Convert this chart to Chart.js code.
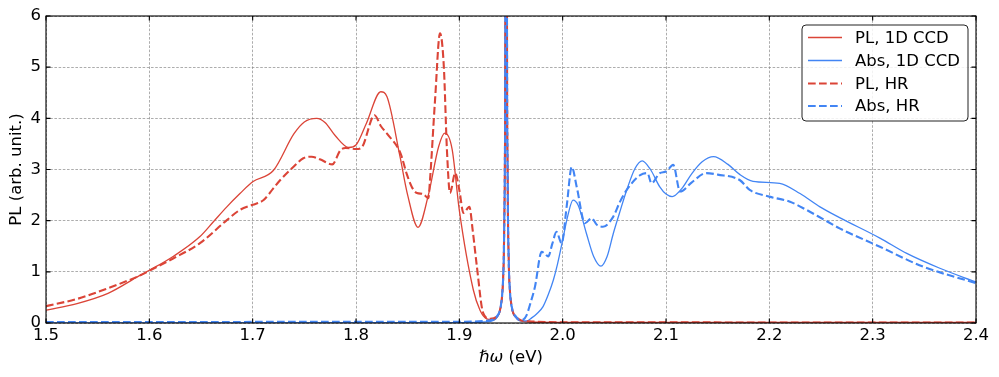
<!DOCTYPE html>
<html>
<head>
<meta charset="utf-8">
<script src="https://cdn.jsdelivr.net/npm/chart.js@4"></script>
<style>
  html, body { margin: 0; padding: 0; background: #fff; }
  #c { display: block; }
</style>
</head>
<body>
<canvas id="c" width="999" height="377"></canvas>
<script>
// ---------- data ----------
const xTicks = [1.5, 1.6, 1.7, 1.8, 1.9, 2.0, 2.1, 2.2, 2.3, 2.4];
const yTicks = [0, 1, 2, 3, 4, 5, 6];
const seriesNames = ["PL, 1D CCD", "Abs, 1D CCD", "PL, HR", "Abs, HR"];

// PL, 1D CCD (solid red)
const pl1dE = [1.50,1.53,1.56,1.59,1.60,1.623,1.649,1.662,1.675,1.6877,1.70,1.72,1.74,1.75,1.762,1.77,1.78,1.793,1.80,1.81,1.824,1.83,1.8426,1.85,1.86,1.87,1.88,1.886,1.893,1.90,1.9135,1.92,1.9265,1.933,
  1.936,1.940,1.942,1.943,1.944,1.9447,1.9453,1.946,1.9467,1.9477,1.9487,1.9507,1.955,1.96,1.97,2.00,2.40];
const pl1dV = [0.25,0.38,0.58,0.92,1.03,1.30,1.69,1.98,2.27,2.53,2.76,2.98,3.70,3.93,4.00,3.92,3.66,3.43,3.48,3.90,4.52,4.42,3.25,2.50,1.87,2.50,3.45,3.71,3.40,2.20,0.65,0.25,0.08,0.06,
  0.10,0.30,0.70,1.30,3.00,8.0,40.0,8.0,3.00,1.30,0.70,0.30,0.10,0.04,0.02,0.012,0.01];

// Abs, 1D CCD (solid blue)
const abs1dE = [1.50,1.90,1.925,1.933,
  1.936,1.940,1.942,1.943,1.944,1.9447,1.9453,1.946,1.9467,1.9477,1.9487,1.9507,1.955,
  1.96,1.965,1.97,1.975,1.981,1.986,1.991,1.995,2.000,2.005,2.010,2.015,2.023,2.030,2.037,2.043,2.049,2.055,2.062,2.070,2.077,2.085,2.094,2.100,2.106,2.115,2.125,2.135,2.146,2.160,2.1716,2.1842,2.210,2.2297,2.249,2.268,2.307,2.333,2.365,2.400];
const abs1dV = [0.0,0.005,0.02,0.05,
  0.10,0.30,0.70,1.30,3.00,8.0,40.0,8.0,3.00,1.30,0.70,0.30,0.10,
  0.04,0.04,0.10,0.18,0.32,0.55,0.84,1.15,1.62,2.10,2.40,2.30,1.75,1.30,1.11,1.30,1.75,2.15,2.60,3.02,3.17,3.00,2.66,2.52,2.47,2.62,2.92,3.15,3.25,3.10,2.90,2.77,2.73,2.53,2.27,2.06,1.66,1.36,1.07,0.80];

// PL, HR (dashed red)
const plhrE = [1.50,1.53,1.56,1.59,1.60,1.623,1.649,1.675,1.6877,1.70,1.7103,1.72,1.7265,1.7393,1.749,1.757,1.765,1.777,1.785,1.79,1.80,1.805,1.818,1.824,1.83,1.843,1.849,1.854,1.859,1.865,1.87,1.8716,1.8765,1.8813,1.885,1.888,1.891,1.896,1.900,1.904,1.9097,1.913,1.917,1.923,1.930,
  1.936,1.940,1.942,1.943,1.944,1.9447,1.9453,1.946,1.9467,1.9477,1.9487,1.9507,1.955,1.96,1.97,2.00,2.40];
const plhrV = [0.33,0.47,0.68,0.92,1.02,1.26,1.56,2.01,2.21,2.31,2.40,2.63,2.79,3.05,3.22,3.25,3.20,3.10,3.38,3.42,3.40,3.42,4.06,3.85,3.70,3.32,2.92,2.66,2.54,2.52,2.44,2.79,4.36,5.66,5.01,3.38,2.54,2.93,2.60,2.15,2.27,1.80,1.10,0.20,0.08,
  0.12,0.32,0.72,1.30,3.00,8.0,40.0,8.0,3.00,1.30,0.72,0.32,0.12,0.05,0.03,0.015,0.01];

// Abs, HR (dashed blue)
const abshrE = [1.50,1.90,1.925,1.933,
  1.936,1.940,1.942,1.943,1.944,1.9447,1.9453,1.946,1.9467,1.9477,1.9487,1.9507,1.955,
  1.958,1.962,1.965,1.969,1.9732,1.9797,1.983,1.986,1.990,1.994,1.999,2.004,2.0088,2.0136,2.0216,2.028,2.033,2.039,2.049,2.055,2.062,2.075,2.082,2.086,2.094,2.100,2.107,2.1136,2.125,2.139,2.150,2.1716,2.181,2.200,2.220,2.236,2.252,2.268,2.307,2.349,2.400];
const abshrV = [0.02,0.025,0.04,0.07,
  0.12,0.32,0.72,1.30,3.00,8.0,40.0,8.0,3.00,1.30,0.72,0.32,0.12,
  0.06,0.07,0.15,0.40,0.71,1.39,1.35,1.30,1.55,1.78,1.56,2.30,3.05,2.66,1.95,2.05,1.92,1.88,2.08,2.35,2.60,2.89,2.93,2.73,2.93,2.96,3.09,2.57,2.75,2.93,2.90,2.79,2.60,2.47,2.37,2.21,2.03,1.85,1.49,1.10,0.78];

// ---------- styling ----------
const RED = '#DB4437';
const BLUE = '#4285F4';
const FONT = "'DejaVu Sans', sans-serif";
const FS = 16.5;

function pts(E, V) { return E.map((e, i) => ({ x: e, y: V[i] })); }

const datasets = [
  { label: seriesNames[0], data: pts(pl1dE, pl1dV), borderColor: RED, borderWidth: 1.3, borderDash: [], order: 4 },
  { label: seriesNames[1], data: pts(abs1dE, abs1dV), borderColor: BLUE, borderWidth: 1.3, borderDash: [], order: 3 },
  { label: seriesNames[2], data: pts(plhrE, plhrV), borderColor: RED, borderWidth: 2.1, borderDash: [7.7, 3.3], order: 2 },
  { label: seriesNames[3], data: pts(abshrE, abshrV), borderColor: BLUE, borderWidth: 2.1, borderDash: [7.7, 3.3], order: 1 }
].map(d => Object.assign(d, { fill: false, pointRadius: 0, cubicInterpolationMode: 'monotone', backgroundColor: d.borderColor }));

const decor = {
  id: 'decor',
  afterDraw(chart) {
    const { ctx, chartArea: a, scales: { x, y } } = chart;
    ctx.save();
    // inner ticks
    ctx.strokeStyle = '#000';
    ctx.lineWidth = 1.1;
    const TL = 4.5;
    ctx.beginPath();
    xTicks.forEach(v => {
      const px = x.getPixelForValue(v);
      ctx.moveTo(px, a.bottom); ctx.lineTo(px, a.bottom - TL);
      ctx.moveTo(px, a.top); ctx.lineTo(px, a.top + TL);
    });
    yTicks.forEach(v => {
      const py = y.getPixelForValue(v);
      ctx.moveTo(a.left, py); ctx.lineTo(a.left + TL, py);
      ctx.moveTo(a.right, py); ctx.lineTo(a.right - TL, py);
    });
    ctx.stroke();
    // frame
    ctx.lineWidth = 1.1;
    ctx.strokeRect(a.left, a.top, a.right - a.left, a.bottom - a.top);

    // legend
    const lx = 802, ly = 25, lw = 166, lh = 96, r = 4;
    ctx.beginPath();
    ctx.moveTo(lx + r, ly);
    ctx.arcTo(lx + lw, ly, lx + lw, ly + lh, r);
    ctx.arcTo(lx + lw, ly + lh, lx, ly + lh, r);
    ctx.arcTo(lx, ly + lh, lx, ly, r);
    ctx.arcTo(lx, ly, lx + lw, ly, r);
    ctx.closePath();
    ctx.fillStyle = 'rgba(255,255,255,0.85)';
    ctx.fill();
    ctx.strokeStyle = '#222';
    ctx.lineWidth = 1;
    ctx.stroke();
    const rows = [37.5, 60.5, 83.5, 106];
    ctx.font = FS + 'px ' + FONT;
    ctx.textBaseline = 'middle';
    ctx.textAlign = 'left';
    datasets.forEach((d, i) => {
      ctx.save();
      ctx.strokeStyle = d.borderColor;
      ctx.lineWidth = d.borderWidth;
      ctx.setLineDash(d.borderDash);
      ctx.beginPath();
      ctx.moveTo(808, rows[i]); ctx.lineTo(842, rows[i]);
      ctx.stroke();
      ctx.restore();
      ctx.fillStyle = '#000';
      ctx.fillText(d.label, 855, rows[i] + 1);
    });

    // x axis title: italic ħω + normal (eV)
    const t1 = 'ℏω', t2 = ' (eV)';
    ctx.textBaseline = 'alphabetic';
    ctx.font = 'italic ' + FS + 'px ' + FONT;
    const w1 = ctx.measureText(t1).width;
    ctx.font = FS + 'px ' + FONT;
    const w2 = ctx.measureText(t2).width;
    const cx = (a.left + a.right) / 2;
    let sx = cx - (w1 + w2) / 2;
    ctx.font = 'italic ' + FS + 'px ' + FONT;
    ctx.fillText(t1, sx, 362);
    ctx.font = FS + 'px ' + FONT;
    ctx.fillText(t2, sx + w1, 362);

    // y axis title
    ctx.save();
    ctx.translate(21, (a.top + a.bottom) / 2);
    ctx.rotate(-Math.PI / 2);
    ctx.textAlign = 'center';
    ctx.fillText('PL (arb. unit.)', 0, 0);
    ctx.restore();
    ctx.restore();
  }
};

new Chart(document.getElementById('c'), {
  type: 'line',
  data: { datasets },
  options: {
    responsive: false,
    animation: false,
    devicePixelRatio: 1,
    layout: { padding: { top: 16, right: 23, left: 0, bottom: 0 } },
    plugins: { legend: { display: false }, tooltip: { enabled: false } },
    scales: {
      x: {
        type: 'linear', min: 1.5, max: 2.4,
        afterFit(s) { s.height = 54; },
        afterBuildTicks(s) { s.ticks = xTicks.map(v => ({ value: v })); },
        ticks: { callback: v => Number(v).toFixed(1), font: { family: FONT, size: FS }, color: '#000', padding: 3, maxRotation: 0, autoSkip: false },
        grid: { color: '#8a8a8a', lineWidth: 0.7, drawTicks: false },
        border: { display: false, dash: [2.6, 1.6] }
      },
      y: {
        type: 'linear', min: 0, max: 6,
        afterFit(s) { s.width = 46; },
        afterBuildTicks(s) { s.ticks = yTicks.map(v => ({ value: v })); },
        ticks: { callback: v => String(v), font: { family: FONT, size: FS }, color: '#000', padding: 5 },
        grid: { color: '#8a8a8a', lineWidth: 0.7, drawTicks: false },
        border: { display: false, dash: [2.6, 1.6] }
      }
    }
  },
  plugins: [decor]
});
</script>
</body>
</html>
